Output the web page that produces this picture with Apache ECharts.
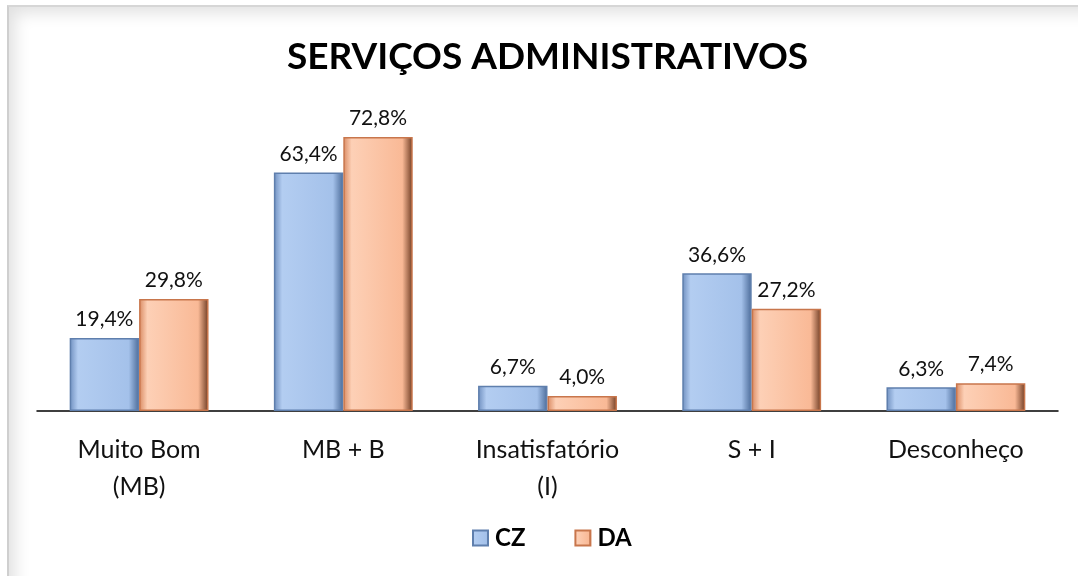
<!DOCTYPE html>
<html>
<head>
<meta charset="utf-8">
<script src="https://cdn.jsdelivr.net/npm/echarts@6/dist/echarts.min.js"></script>
<style>
    html, body { margin: 0; padding: 0; background: #ffffff; }
    .frame {
        position: absolute; left: 7px; top: 5px; width: 1071px; height: 571px;
        border-left: 2px solid #cfcfcf; border-top: 2px solid #d6d6d6;
        box-shadow: inset 14px 14px 16px -8px rgba(0,0,0,0.12);
        box-sizing: border-box;
    }
    #chart { position: absolute; left: 0; top: 0; width: 1078px; height: 576px; }
</style>
</head>
<body>
<div class="frame"></div>
<div id="chart"></div>
<script>
    // dados do gráfico
    const categories = ['Muito Bom\n(MB)', 'MB + B', 'Insatisfatório\n(I)', 'S + I', 'Desconheço']
    const czValues = [19.4, 63.4, 6.7, 36.6, 6.3]
    const daValues = [29.8, 72.8, 4.0, 27.2, 7.4]
    const seriesNames = ['CZ', 'DA']

    const chart = echarts.init(document.getElementById('chart'), null, { renderer: 'canvas' })

    // gradiente horizontal para imitar o bisel das barras
    const bevel = (edge, light, base, dark) => new echarts.graphic.LinearGradient(0, 0, 1, 0, [
        { offset: 0, color: edge },
        { offset: 0.12, color: light },
        { offset: 0.85, color: base },
        { offset: 1, color: dark }
    ])

    const labelFmt = p => p.value.toFixed(1).replace('.', ',') + '%'

    const option = {
        animation: false,
        backgroundColor: 'transparent',
        textStyle: { fontFamily: 'Lato' },
        title: {
            text: 'SERVIÇOS ADMINISTRATIVOS',
            left: 282,
            top: 34,
            textStyle: { fontFamily: 'Lato', fontWeight: 'bold', fontSize: 37, color: '#000' }
        },
        legend: {
            data: seriesNames,
            bottom: 21,
            left: 467,
            itemWidth: 15,
            itemHeight: 15,
            itemGap: 49,
            icon: 'rect',
            textStyle: { fontFamily: 'Lato', fontWeight: 'bold', fontSize: 24, color: '#000', padding: [0, 0, 0, 2] }
        },
        grid: { left: 37, right: 20, top: 110, bottom: 165 },
        xAxis: {
            type: 'category',
            data: categories,
            axisTick: { show: false },
            axisLine: { lineStyle: { color: '#000', width: 1.5 } },
            axisLabel: { fontFamily: 'Lato', fontSize: 25, color: '#111', lineHeight: 37, margin: 20 }
        },
        yAxis: {
            type: 'value',
            min: 0,
            max: 80,
            show: false,
            splitLine: { show: false }
        },
        series: [
            {
                name: 'CZ',
                type: 'bar',
                data: czValues,
                barGap: '0%',
                barCategoryGap: '32%',
                itemStyle: {
                    color: bevel('#6f8fbf', '#b3cdf1', '#a4c1ea', '#4b6b99'),
                    borderColor: '#5f7fad',
                    borderWidth: 1.5
                },
                label: { show: true, position: 'top', distance: 8, fontFamily: 'Lato', fontSize: 21, color: '#111', formatter: labelFmt }
            },
            {
                name: 'DA',
                type: 'bar',
                data: daValues,
                itemStyle: {
                    color: bevel('#d98a62', '#fdd0b6', '#f9b996', '#6e3b22'),
                    borderColor: '#c8764c',
                    borderWidth: 1.5
                },
                label: { show: true, position: 'top', distance: 8, fontFamily: 'Lato', fontSize: 21, color: '#111', formatter: labelFmt }
            }
        ]
    }
    chart.setOption(option)
</script>
</body>
</html>
